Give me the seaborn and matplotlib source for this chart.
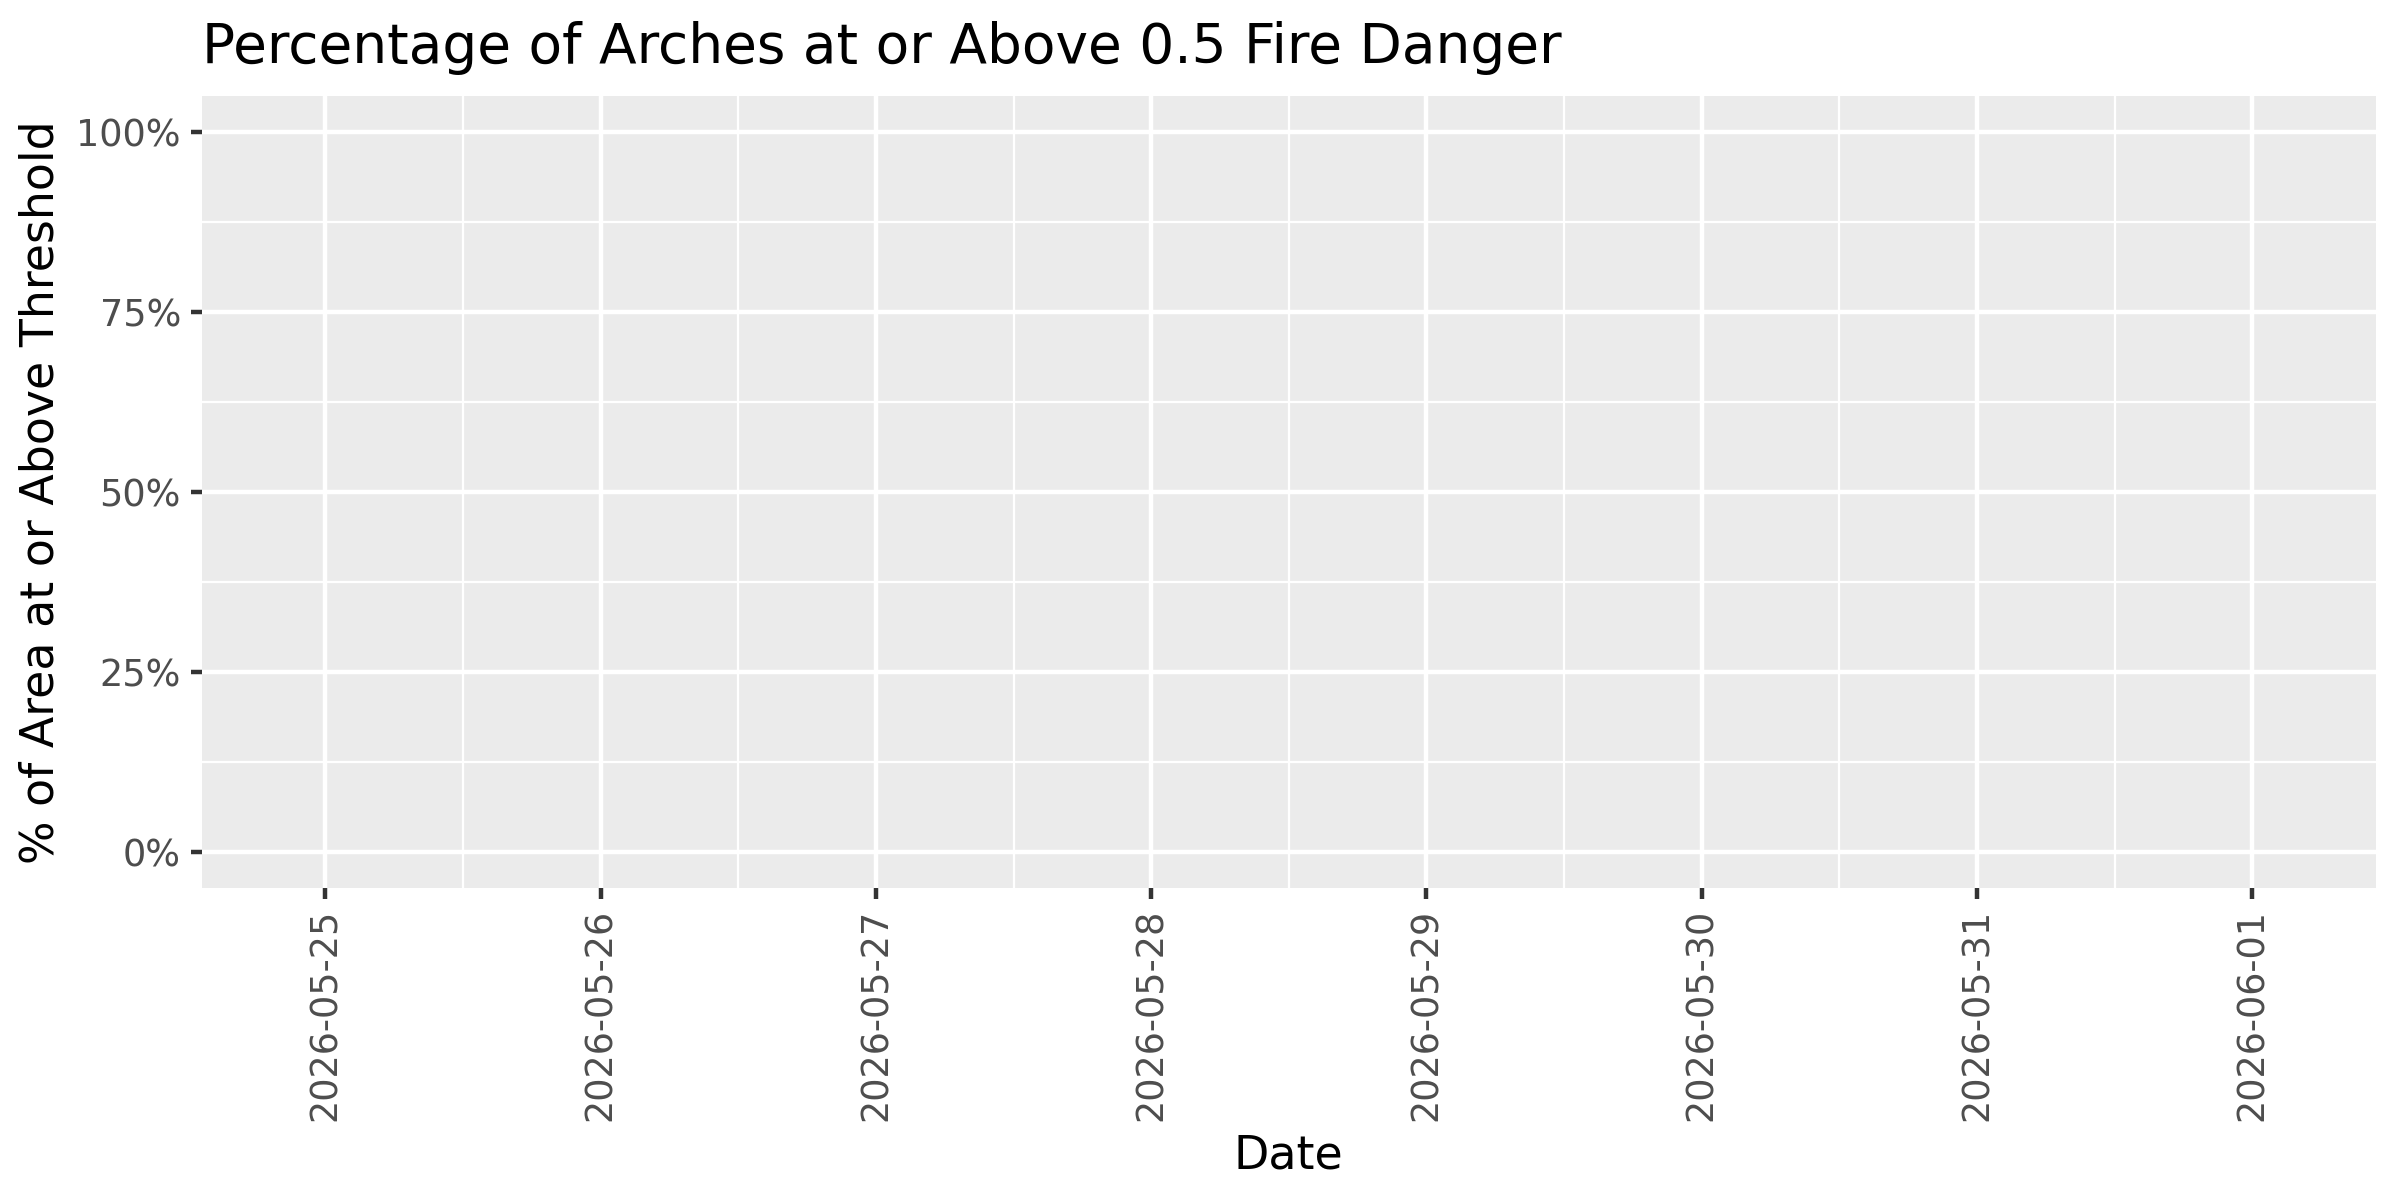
import numpy as np
import pandas as pd
import matplotlib
matplotlib.use("Agg")
import matplotlib.pyplot as plt
import matplotlib.dates as mdates
from matplotlib.ticker import FixedLocator, FuncFormatter
import seaborn as sns

# Datos: fechas del pronóstico y porcentaje de área sobre el umbral (sin valores disponibles)
dates = ["2026-05-25", "2026-05-26", "2026-05-27", "2026-05-28",
         "2026-05-29", "2026-05-30", "2026-05-31", "2026-06-01"]
pct_above = [np.nan, np.nan, np.nan, np.nan, np.nan, np.nan, np.nan, np.nan]
y_ticks = [0.0, 0.25, 0.5, 0.75, 1.0]
y_minor = [0.125, 0.375, 0.625, 0.875]

df = pd.DataFrame({"date": pd.to_datetime(dates), "pct": pct_above})

# Estilo tipo ggplot (theme_grey)
sns.set_theme(style="darkgrid", rc={
    "axes.facecolor": "#EBEBEB",
    "figure.facecolor": "white",
    "grid.color": "white",
    "axes.edgecolor": "none",
})
plt.rcParams["font.family"] = ["DejaVu Sans"]

fig, ax = plt.subplots(figsize=(8, 4), dpi=300)
fig.subplots_adjust(left=0.084, right=0.990, top=0.92, bottom=0.26)

sns.lineplot(data=df, x="date", y="pct", ax=ax, color="#F8766D")

# Ejes
x0 = df["date"].min() - pd.Timedelta(hours=10.8)
x1 = df["date"].max() + pd.Timedelta(hours=10.8)
ax.set_xlim(x0, x1)
ax.set_ylim(-0.05, 1.05)

ax.xaxis.set_major_locator(FixedLocator(mdates.date2num(df["date"])))
ax.xaxis.set_major_formatter(mdates.DateFormatter("%Y-%m-%d"))
mid = df["date"][:-1] + pd.Timedelta(hours=12)
ax.xaxis.set_minor_locator(FixedLocator(mdates.date2num(mid)))

ax.yaxis.set_major_locator(FixedLocator(y_ticks))
ax.yaxis.set_minor_locator(FixedLocator(y_minor))
ax.yaxis.set_major_formatter(FuncFormatter(lambda v, p: f"{v*100:.0f}%"))

ax.grid(which="major", color="white", linewidth=1.07)
ax.grid(which="minor", color="white", linewidth=0.53)
for s in ax.spines.values():
    s.set_visible(False)

ax.tick_params(which="major", length=2.75, width=1.07, color="#333333",
               labelsize=8.8, labelcolor="#4D4D4D", pad=2.2)
ax.tick_params(which="minor", length=0)
ax.tick_params(axis="x", which="major", labelrotation=90)
ax.tick_params(axis="x", bottom=True)
ax.tick_params(axis="y", left=True)

ax.set_xlabel("Date", fontsize=11, color="black", labelpad=3)
ax.set_ylabel("% of Area at or Above Threshold", fontsize=11, color="black", labelpad=3)
ax.set_title("Percentage of Arches at or Above 0.5 Fire Danger",
             loc="left", fontsize=13.2, color="black", pad=8)

plt.savefig("out.png", dpi=300)
